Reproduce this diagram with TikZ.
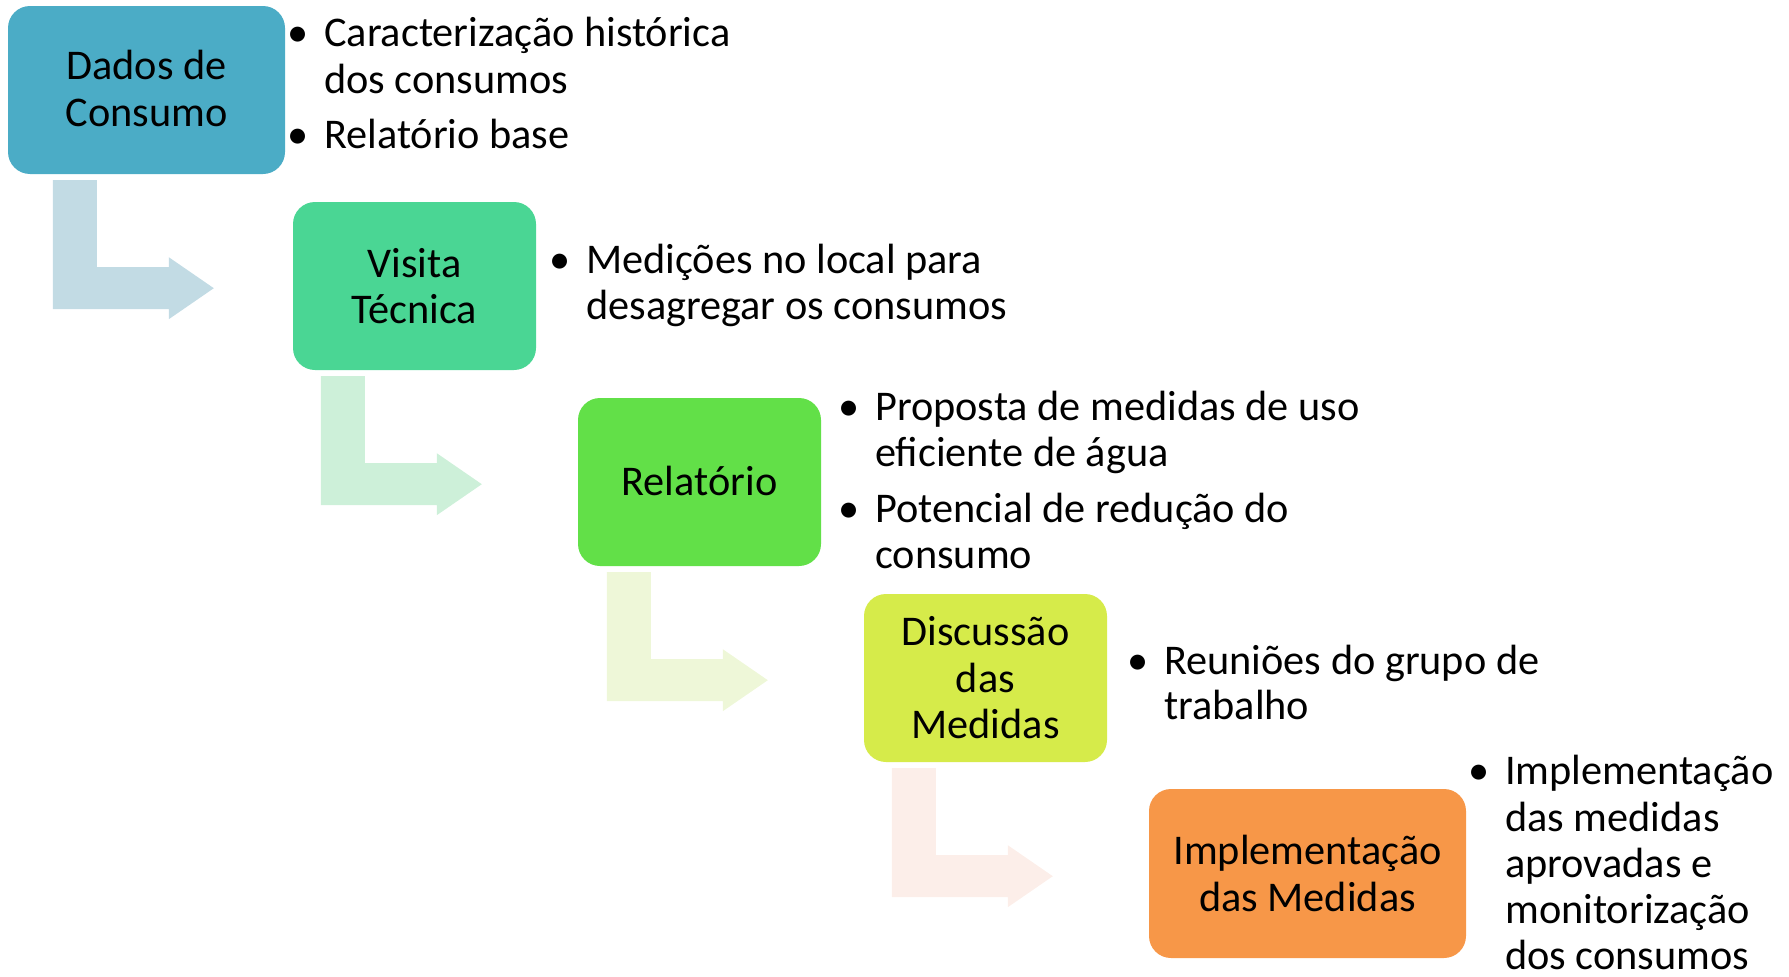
\documentclass[tikz,border=0pt]{standalone}
\usepackage{fontspec}
\setmainfont{Carlito}
\usetikzlibrary{calc}
\definecolor{boxA}{RGB}{75,172,198}
\definecolor{boxB}{RGB}{74,214,148}
\definecolor{boxC}{RGB}{98,224,72}
\definecolor{boxD}{RGB}{214,235,74}
\definecolor{boxE}{RGB}{247,151,72}
\definecolor{arrA}{RGB}{194,219,228}
\definecolor{arrB}{RGB}{205,240,217}
\definecolor{arrC}{RGB}{238,247,216}
\definecolor{arrD}{RGB}{252,238,233}
\newcommand\bigfont{\fontsize{42.3}{46.5}\selectfont}
\tikzset{
  stage/.style={rectangle, rounded corners=22pt, inner sep=0pt, align=center,
    font=\bigfont, text=black, minimum height=168pt},
  txt/.style={anchor=base west, inner sep=0pt, font=\bigfont},
  bul/.style={anchor=base, inner sep=0pt, font=\bigfont},
}
\newcommand\bentarrow[2]{%
  \fill[#1, shift={(#2)}] (0,0) -- (44,0) -- (44,87) -- (116,87) -- (116,77)
    -- (161,108) -- (116,139) -- (116,129) -- (0,129) -- cycle;}
\begin{document}
\begin{tikzpicture}[x=1pt, y=-1pt]
\useasboundingbox (0,0) rectangle (1789,977);
% stages
\node[stage, fill=boxA, minimum width=277pt, text depth=3pt] (b1) at (146.5,90) {Dados de\\Consumo};
\node[stage, fill=boxB, minimum width=243pt] (b2) at (414.5,286) {Visita\\Técnica};
\node[stage, fill=boxC, minimum width=243pt] (b3) at (699.5,482) {\raisebox{2pt}{Relatório}};
\node[stage, fill=boxD, minimum width=243pt] (b4) at (985.5,678) {Discussão\\das\\Medidas};
\node[stage, fill=boxE, minimum width=317pt, minimum height=169pt] (b5) at (1307.5,873.5) {Implementação\\das Medidas};
% bent arrows
\coordinate (a1) at ($(b1.south west)+(45,6)$);
\coordinate (a2) at ($(b2.south west)+(28,6)$);
\coordinate (a3) at ($(b3.south west)+(29,6)$);
\coordinate (a4) at ($(b4.south west)+(28,6)$);
\bentarrow{arrA}{a1}
\bentarrow{arrB}{a2}
\bentarrow{arrC}{a3}
\bentarrow{arrD}{a4}
% bullets group 1
\node[bul] (p1a) at (298,46) {•};
\node[txt] (t1a) at (324,46) {Caracterização histórica};
\node[txt] (t1b) at (324,93) {dos consumos};
\node[bul] (p1b) at (298,148) {•};
\node[txt] (t1c) at (324,148) {Relatório base};
% group 2
\node[bul] (p2a) at (560,273) {•};
\node[txt] (t2a) at (586,273) {Medições no local para};
\node[txt] (t2b) at (586,319) {desagregar os consumos};
% group 3
\node[bul] (p3a) at (849,420) {•};
\node[txt] (t3a) at (875,420) {Proposta de medidas de uso};
\node[txt] (t3b) at (875,466) {eficiente de água};
\node[bul] (p3b) at (849,522) {•};
\node[txt] (t3c) at (875,522) {Potencial de redução do};
\node[txt] (t3d) at (875,568) {consumo};
% group 4
\node[bul] (p4a) at (1138,674) {•};
\node[txt] (t4a) at (1164,674) {Reuniões do grupo de};
\node[txt] (t4b) at (1164,719) {trabalho};
% group 5
\node[bul] (p5a) at (1479,784) {•};
\node[txt] (t5a) at (1505,784) {Implementação};
\node[txt] (t5b) at (1505,831) {das medidas};
\node[txt] (t5c) at (1505,877) {aprovadas e};
\node[txt] (t5d) at (1505,923) {monitorização};
\node[txt] (t5e) at (1505,969) {dos consumos};
\end{tikzpicture}
\end{document}
